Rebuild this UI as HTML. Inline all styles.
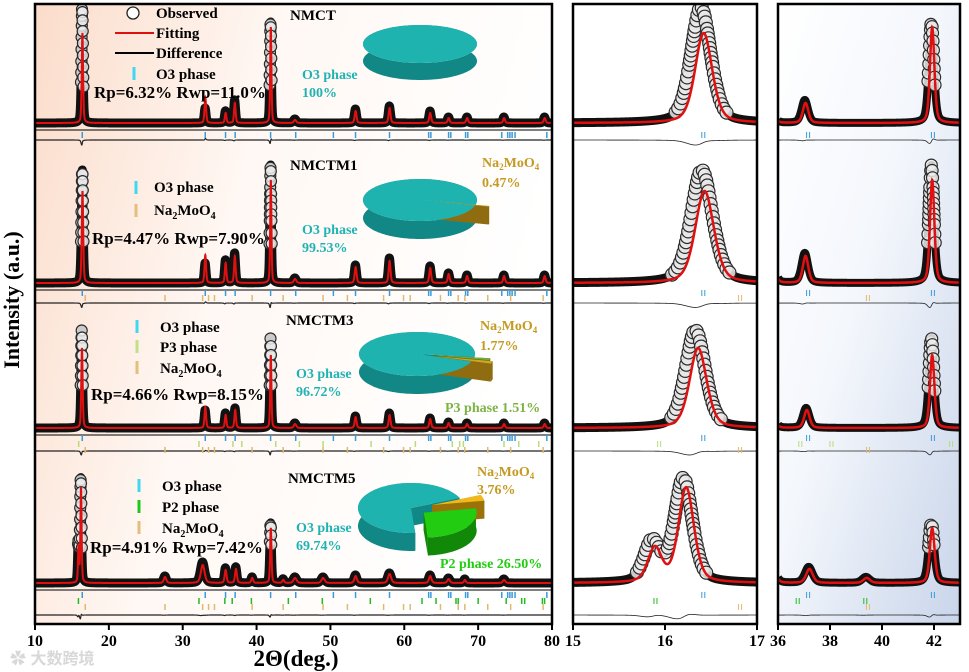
<!DOCTYPE html>
<html><head><meta charset="utf-8"><style>
html,body{margin:0;padding:0;background:#fff;}
svg{display:block;font-family:"Liberation Serif",serif;font-weight:bold;}
</style></head><body>
<svg id="fig" width="969" height="672" viewBox="0 0 969 672">
<defs>
<linearGradient id="bgL" x1="0" y1="0" x2="1" y2="0.3"><stop offset="0" stop-color="#fbdcca"/><stop offset="0.45" stop-color="#fff8f4"/><stop offset="1" stop-color="#ffffff"/></linearGradient>
<linearGradient id="bgR" x1="0" y1="0" x2="1" y2="1"><stop offset="0" stop-color="#ffffff"/><stop offset="0.45" stop-color="#f4f7fc"/><stop offset="1" stop-color="#c9d5ea"/></linearGradient>
<clipPath id="cL"><rect x="35" y="4" width="517" height="620"/></clipPath>
<clipPath id="cM"><rect x="573" y="4" width="184" height="620"/></clipPath>
<clipPath id="cR"><rect x="778" y="4" width="182" height="620"/></clipPath>
</defs>
<rect x="35" y="4" width="517" height="620" fill="url(#bgL)"/>
<rect x="778" y="4" width="182" height="620" fill="url(#bgR)"/>
<g id="plots"></g>
<g id="pies"></g>
<g id="texts" font-size="15">
<text x="14" y="300" font-size="22" transform="rotate(-90 14 300)" text-anchor="middle" dominant-baseline="middle">Intensity (a.u.)</text>
<text x="296" y="666" font-size="23" text-anchor="middle">2Θ(deg.)</text>
<g>
<circle cx="133" cy="13" r="6" fill="#fff" stroke="#222" stroke-width="1.3"/>
<text x="156" y="18">Observed</text>
<line x1="115" y1="33" x2="154" y2="33" stroke="#e01010" stroke-width="2"/>
<text x="156" y="38">Fitting</text>
<line x1="115" y1="53" x2="154" y2="53" stroke="#000" stroke-width="2"/>
<text x="156" y="58">Difference</text>
<line x1="134" y1="67" x2="134" y2="80" stroke="#40d8f0" stroke-width="3"/>
<text x="156" y="79">O3 phase</text>
</g>
<text x="94" y="98" font-size="17">Rp=6.32% Rwp=11.0%</text>
<text x="290" y="20">NMCT</text>
<text x="302" y="79" font-size="14" fill="#1fb3b3">O3 phase</text>
<text x="302" y="97" font-size="14" fill="#1fb3b3">100%</text>

<text x="290" y="170">NMCTM1</text>
<line x1="136" y1="181" x2="136" y2="194" stroke="#40d8f0" stroke-width="3"/>
<text x="154" y="192">O3 phase</text>
<line x1="136" y1="204" x2="136" y2="217" stroke="#e2bf7a" stroke-width="3"/>
<text x="154" y="215">Na<tspan font-size="10" dy="4">2</tspan><tspan dy="-4">MoO</tspan><tspan font-size="10" dy="4">4</tspan></text>
<text x="92" y="244" font-size="17">Rp=4.47% Rwp=7.90%</text>
<text x="482" y="167" font-size="14" fill="#c59a22">Na<tspan font-size="9" dy="3">2</tspan><tspan dy="-3">MoO</tspan><tspan font-size="9" dy="3">4</tspan></text>
<text x="482" y="187" font-size="14" fill="#c59a22">0.47%</text>
<text x="302" y="234" font-size="14" fill="#1fb3b3">O3 phase</text>
<text x="302" y="252" font-size="14" fill="#1fb3b3">99.53%</text>

<text x="286" y="325">NMCTM3</text>
<line x1="137" y1="320" x2="137" y2="333" stroke="#40d8f0" stroke-width="3"/>
<text x="160" y="332">O3 phase</text>
<line x1="137" y1="340" x2="137" y2="353" stroke="#c2e08a" stroke-width="3"/>
<text x="160" y="352">P3 phase</text>
<line x1="137" y1="361" x2="137" y2="374" stroke="#e2bf7a" stroke-width="3"/>
<text x="160" y="373">Na<tspan font-size="10" dy="4">2</tspan><tspan dy="-4">MoO</tspan><tspan font-size="10" dy="4">4</tspan></text>
<text x="91" y="400" font-size="17">Rp=4.66% Rwp=8.15%</text>
<text x="480" y="330" font-size="14" fill="#c59a22">Na<tspan font-size="9" dy="3">2</tspan><tspan dy="-3">MoO</tspan><tspan font-size="9" dy="3">4</tspan></text>
<text x="480" y="350" font-size="14" fill="#c59a22">1.77%</text>
<text x="296" y="378" font-size="14" fill="#1fb3b3">O3 phase</text>
<text x="296" y="396" font-size="14" fill="#1fb3b3">96.72%</text>
<text x="445" y="412" font-size="14" fill="#7cb342">P3 phase 1.51%</text>

<text x="288" y="483">NMCTM5</text>
<line x1="139" y1="479" x2="139" y2="492" stroke="#40d8f0" stroke-width="3"/>
<text x="162" y="491">O3 phase</text>
<line x1="139" y1="500" x2="139" y2="513" stroke="#1ec81e" stroke-width="3"/>
<text x="162" y="512">P2 phase</text>
<line x1="139" y1="521" x2="139" y2="534" stroke="#e2bf7a" stroke-width="3"/>
<text x="162" y="533">Na<tspan font-size="10" dy="4">2</tspan><tspan dy="-4">MoO</tspan><tspan font-size="10" dy="4">4</tspan></text>
<text x="90" y="553" font-size="17">Rp=4.91% Rwp=7.42%</text>
<text x="477" y="476" font-size="14" fill="#c59a22">Na<tspan font-size="9" dy="3">2</tspan><tspan dy="-3">MoO</tspan><tspan font-size="9" dy="3">4</tspan></text>
<text x="477" y="494" font-size="14" fill="#c59a22">3.76%</text>
<text x="296" y="532" font-size="14" fill="#1fb3b3">O3 phase</text>
<text x="296" y="550" font-size="14" fill="#1fb3b3">69.74%</text>
<text x="440" y="568" font-size="14" fill="#22cc11">P2 phase 26.50%</text>
<text x="10" y="664" font-size="16" fill="#d8d8d8" font-family="'Liberation Sans','Noto Sans CJK SC',sans-serif">✿ 大数跨境</text>
</g>
</svg>
<script>
// ---- data ----
const samples = ['NMCT','NMCTM1','NMCTM3','NMCTM5'];
const peakPos = [
 [16.41,33.05,35.8,37.05,41.92,45.2,53.4,58.0,63.5,66.0,68.5,73.5,79.0],
 [16.42,33.05,35.8,37.05,41.92,45.2,53.4,58.0,63.5,66.0,68.5,73.5,79.0],
 [16.35,33.05,35.8,37.1,41.92,45.2,53.4,58.0,63.5,66.0,68.5,73.5,79.0],
 [15.88,16.22,27.6,32.7,35.8,37.2,39.4,41.92,43.6,45.2,49.0,53.4,58.0,63.5,66.0,68.2,73.5]
];
const obsInt = [
 [116,15,12,23,101,4,14,17,12,6,6,6,6],
 [113,20,23,30,118,5,18,25,17,10,8,8,8],
 [98,18,15,20,90,5,12,15,10,6,5,5,5],
 [40,104,7,21,15,16,6,60,4,6,6,8,10,8,5,4,4]
];
const fitInt = [
 [90,26,10,20,96,3,12,15,10,5,5,5,5],
 [92,28,20,27,103,4,16,22,15,9,7,7,7],
 [80,21,13,18,73,4,11,13,9,5,4,4,4],
 [34,95,6,18,13,14,5,55,3,5,5,7,9,7,4,3,3]
];
const peakWidth = [
 [0.22,0.25,0.25,0.25,0.2,0.4,0.3,0.3,0.3,0.3,0.3,0.3,0.3],
 [0.24,0.25,0.25,0.25,0.2,0.4,0.3,0.3,0.3,0.3,0.3,0.3,0.3],
 [0.22,0.25,0.25,0.25,0.2,0.4,0.3,0.3,0.3,0.3,0.3,0.3,0.3],
 [0.18,0.2,0.4,0.6,0.3,0.3,0.3,0.22,0.3,0.5,0.5,0.4,0.5,0.4,0.4,0.3,0.4]
];
const o3Ticks = [16.4,33.05,35.8,37.1,41.9,45.3,50.4,53.4,58.0,63.3,63.6,66.0,66.3,68.3,68.6,73.2,74.0,74.3,74.6,75.0,79.3];
const moTicks = [16.8,27.6,32.7,33.5,34.3,39.4,43.6,49.0,52.3,57.2,59.9,60.8,64.9,67.3,68.2,71.3,74.4,78.8];
const p3Ticks = [15.92,32.2,36.8,38.0,42.6,45.8,49.0,55.5,61.5,66.5,67.5,68.0,73.5,75.5,78.2];
const p2Ticks = [15.88,32.2,35.7,36.7,39.3,44.3,48.9,55.4,62.4,64.3,67.0,67.3,70.0,73.8,75.9,76.3,78.7,79.0];
const xTicksL = [10,20,30,40,50,60,70,80];
const xTicksM = [15,16,17];
const xTicksR = [36,38,40,42];
const pieShares = [[100],[99.53,0.47],[96.72,1.51,1.77],[69.74,26.50,3.76]];

// ---- layout ----
const NS='http://www.w3.org/2000/svg';
const panels=[{x0:35,x1:552,d0:10,d1:80,clip:'cL',r:5.5,sp:6.5,step:0.01,thr:35,bw:9,ticks:xTicksL},
              {x0:573,x1:757,d0:15,d1:17,clip:'cM',r:6.5,sp:4.5,step:0.004,thr:8,bw:9,ticks:xTicksM},
              {x0:778,x1:960,d0:36,d1:43,clip:'cR',r:6,sp:5,step:0.008,thr:35,bw:8,ticks:xTicksR}];
const base=[123,283,428,583], diffY=[140,303,451,615];
const tickRows=[[[o3Ticks,'#3a9ad9',135]],
 [[o3Ticks,'#3a9ad9',293],[moTicks,'#e0b870',298]],
 [[o3Ticks,'#3a9ad9',438],[p3Ticks,'#b9dc78',444],[moTicks,'#e0b870',450]],
 [[o3Ticks,'#3a9ad9',595],[p2Ticks,'#22bb22',601],[moTicks,'#e0b870',607]]];
const plots=document.getElementById('plots');
function mk(tag,attrs,parent){const e=document.createElementNS(NS,tag);for(const k in attrs)e.setAttribute(k,attrs[k]);(parent||plots).appendChild(e);return e;}
function prof(d,i,ints,shift,wf){let s=0;const P=peakPos[i];for(let k=0;k<P.length;k++){const w=peakWidth[i][k]*wf;const u=(d-P[k]-shift)/(w/2);s+=ints[k]*(0.6*Math.exp(-0.693*u*u)+0.4/(1+u*u));}return s;}
panels.forEach((p,pi)=>{
 const X=d=>p.x0+(d-p.d0)*(p.x1-p.x0)/(p.d1-p.d0);
 const g=mk('g',{'clip-path':'url(#'+p.clip+')'});
 
 
 samples.forEach((s,i)=>{
  const ob=[],ft=[],df=[];
  for(let d=p.d0;d<=p.d1+1e-9;d+=p.step){
   const o=prof(d,i,obsInt[i],-0.02,1.15), f=prof(d,i,fitInt[i],0.01,1.0);
   ob.push([X(d),base[i]-o]);ft.push([X(d),base[i]-f]);df.push([X(d),diffY[i]+Math.max(-12,Math.min(12,(o-f)*0.12))]);
  }
  if(pi===0){const l=mk('line',{x1:p.x0,x2:p.x1,y1:base[i]+7,y2:base[i]+7,stroke:'#000','stroke-width':1},g);}
  const band=mk('polyline',{points:ob.map(q=>q.join(',')).join(' '),fill:'none',stroke:'#111','stroke-width':p.bw,'stroke-linejoin':'round'},g);
  
  
  let acc=0;for(let k=1;k<ob.length;k++){const dx=ob[k][0]-ob[k-1][0],dy=ob[k][1]-ob[k-1][1];acc+=Math.hypot(dx,dy);
   if(acc>=p.sp){acc=0;if(base[i]-ob[k][1]>p.thr){const c=mk('circle',{cx:ob[k][0].toFixed(1),cy:ob[k][1].toFixed(1),r:p.r,fill:'#ececec','fill-opacity':0.85,stroke:'#2a2a2a','stroke-width':1.2},g);
    
    }}}
  const fl=mk('polyline',{points:ft.map(q=>q.join(',')).join(' '),fill:'none',stroke:'#e01010','stroke-width':pi===0?2:2.5},g);
  
  
  const dl=mk('polyline',{points:df.map(q=>q.join(',')).join(' '),fill:'none',stroke:'#222','stroke-width':pi===0?1.2:0.8},g);
  
  
  tickRows[i].forEach(([arr,col,y])=>{arr.forEach(t=>{if(t<p.d0||t>p.d1)return;
   const tk=mk('line',{x1:X(t),x2:X(t),y1:y-3,y2:y+3,stroke:col,'stroke-width':pi===0?1.5:1},g);
   
   
   if(pi>0){mk('line',{x1:X(t)+3,x2:X(t)+3,y1:y-3,y2:y+3,stroke:col,'stroke-width':1},g);}});});
 });
 const fr=mk('rect',{x:p.x0,y:4,width:p.x1-p.x0,height:620,fill:'none',stroke:'#000','stroke-width':2.5});
 
 
 p.ticks.forEach(t=>{
  mk('line',{x1:X(t),x2:X(t),y1:624,y2:630,stroke:'#000','stroke-width':2});
  const tl=mk('text',{x:X(t),y:646,'text-anchor':'middle','font-size':16});
  tl.textContent=t;
  
  
 });
});
// ---- pies ----
const pieG=document.getElementById('pies');
const pieGeo=[{cx:420,cy:44,rx:57,ry:19,dep:17,starts:[0],ex:[0]},
 {cx:420,cy:200,rx:57,ry:21,dep:18,starts:[14.7,13],ex:[0,14]},
 {cx:417,cy:354,rx:58,ry:22,dep:18,starts:[19.8,8,13.4],ex:[0,16,20]},
 {cx:411,cy:508,rx:53,ry:25,dep:18,starts:[85.4,-10,-23.5],ex:[0,16,22]}];
const colSets=[[['#1fb3b0','#128886']],
 [['#1fb3b0','#128886'],['#d4a520','#8f6c10']],
 [['#1fb3b0','#128886'],['#7aa83a','#4f7a20'],['#d4a520','#8f6c10']],
 [['#1fb3b0','#128886'],['#22cc11','#118808'],['#f0b818','#9a7208']]];
pieShares.forEach((sh,i)=>{
 const G=pieGeo[i];const g=mk('g',{},pieG);
 
 
 const sl=sh.map((v,k)=>{const a0=G.starts[k]*Math.PI/180;return {a0,a1:a0+v/100*2*Math.PI,col:colSets[i][k],ex:G.ex[k]};});
 const pt=(s,an,dy)=>{const m=(s.a0+s.a1)/2;const ox=s.ex*Math.cos(m),oy=s.ex*Math.sin(m)*G.ry/G.rx;
  return [G.cx+ox+G.rx*Math.cos(an),G.cy+oy+G.ry*Math.sin(an)+dy];};
 const ctr=(s,dy)=>{const m=(s.a0+s.a1)/2;return [G.cx+s.ex*Math.cos(m),G.cy+s.ex*Math.sin(m)*G.ry/G.rx+dy];};
 sl.forEach(s=>{
  const top=[],bot=[];const n=Math.max(4,Math.ceil((s.a1-s.a0)*40));
  for(let j=0;j<=n;j++){const an=s.a0+(s.a1-s.a0)*j/n;top.push(pt(s,an,0));bot.push(pt(s,an,G.dep));}
  if(sh.length>1){
   [s.a0,s.a1].forEach(an=>{const c0=ctr(s,0),c1=ctr(s,G.dep),e0=pt(s,an,0),e1=pt(s,an,G.dep);
    mk('polygon',{points:[c0,e0,e1,c1].map(q=>q.join(',')).join(' '),fill:s.col[1]},g);});
  }
  mk('polygon',{points:top.concat(bot.reverse()).map(q=>q.map(v=>v.toFixed(1)).join(',')).join(' '),fill:s.col[1]},g);
 });
 sl.forEach(s=>{
  const c=ctr(s,0);const n=Math.max(4,Math.ceil((s.a1-s.a0)*40));const pts=sh.length>1?[c]:[];
  for(let j=0;j<=n;j++){pts.push(pt(s,s.a0+(s.a1-s.a0)*j/n,0));}
  mk('polygon',{points:pts.map(q=>q.map(v=>v.toFixed(1)).join(',')).join(' '),fill:s.col[0]},g);
 });
});
</script>
</body></html>
